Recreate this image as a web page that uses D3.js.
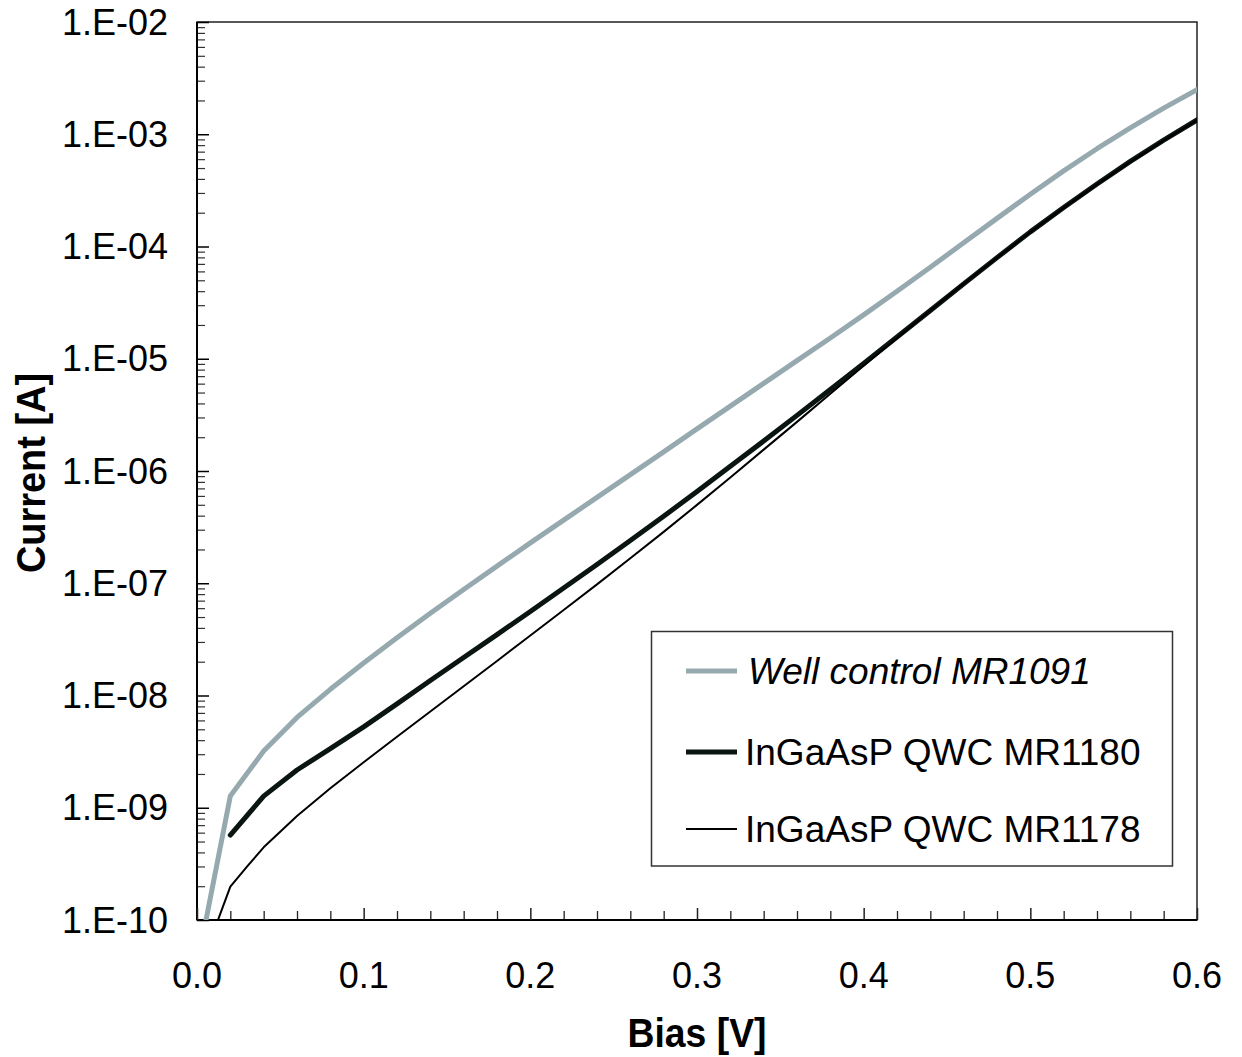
<!DOCTYPE html>
<html>
<head>
<meta charset="utf-8">
<script src="https://cdn.jsdelivr.net/npm/d3@7"></script>
<style>
  html, body { margin: 0; padding: 0; background: #fff; }
  svg { display: block; font-family: "Liberation Sans", Arial, Helvetica, sans-serif; }
</style>
</head>
<body>
<svg id="chart" width="1242" height="1057"></svg>
<script>
// ---- Data ----
const seriesNames = ["Well control MR1091", "InGaAsP QWC MR1180", "InGaAsP QWC MR1178"];

const wellBias = [0.00, 0.02, 0.04, 0.06, 0.08, 0.10, 0.12, 0.14, 0.16, 0.18, 0.20, 0.22, 0.24, 0.26, 0.28, 0.30, 0.32, 0.34, 0.36, 0.38, 0.40, 0.42, 0.44, 0.46, 0.48, 0.50, 0.52, 0.54, 0.56, 0.58, 0.60];
const wellCurrent = [3.9e-11, 1.27e-9, 3.20e-9, 6.38e-9, 1.135e-8, 1.95e-8, 3.27e-8, 5.41e-8, 8.81e-8, 1.42e-7, 2.29e-7, 3.65e-7, 5.82e-7, 9.29e-7, 1.48e-6, 2.37e-6, 3.78e-6, 6.03e-6, 9.62e-6, 1.53e-5, 2.46e-5, 3.99e-5, 6.53e-5, 1.08e-4, 1.78e-4, 2.92e-4, 4.72e-4, 7.43e-4, 1.14e-3, 1.71e-3, 2.50e-3];

const mr1180Bias = [0.02, 0.04, 0.06, 0.08, 0.10, 0.12, 0.14, 0.16, 0.18, 0.20, 0.22, 0.24, 0.26, 0.28, 0.30, 0.32, 0.34, 0.36, 0.38, 0.40, 0.42, 0.44, 0.46, 0.48, 0.50, 0.52, 0.54, 0.56, 0.58, 0.60];
const mr1180Current = [5.71e-10, 1.27e-9, 2.17e-9, 3.36e-9, 5.26e-9, 8.43e-9, 1.36e-8, 2.18e-8, 3.49e-8, 5.61e-8, 9.06e-8, 1.47e-7, 2.40e-7, 3.95e-7, 6.58e-7, 1.10e-6, 1.85e-6, 3.13e-6, 5.32e-6, 9.08e-6, 1.56e-5, 2.69e-5, 4.65e-5, 7.96e-5, 1.35e-4, 2.23e-4, 3.61e-4, 5.73e-4, 8.87e-4, 1.34e-3];

const mr1178Bias = [0.01, 0.02, 0.03, 0.04, 0.06, 0.08, 0.10, 0.12, 0.14, 0.16, 0.18, 0.20, 0.22, 0.24, 0.26, 0.28, 0.30, 0.32, 0.34, 0.36, 0.38, 0.40, 0.42, 0.44, 0.46, 0.48, 0.50, 0.52, 0.54, 0.56, 0.58, 0.60];
const mr1178Current = [7.87e-11, 1.98e-10, 2.99e-10, 4.44e-10, 8.45e-10, 1.49e-9, 2.54e-9, 4.29e-9, 7.21e-9, 1.21e-8, 2.03e-8, 3.42e-8, 5.77e-8, 9.77e-8, 1.67e-7, 2.87e-7, 4.99e-7, 8.75e-7, 1.55e-6, 2.74e-6, 4.88e-6, 8.67e-6, 1.53e-5, 2.69e-5, 4.66e-5, 7.94e-5, 1.34e-4, 2.21e-4, 3.57e-4, 5.66e-4, 8.77e-4, 1.33e-3];

const xTickValues = [0.0, 0.1, 0.2, 0.3, 0.4, 0.5, 0.6];
const xTickLabels = ["0.0", "0.1", "0.2", "0.3", "0.4", "0.5", "0.6"];
const yTickValues = [1e-10, 1e-9, 1e-8, 1e-7, 1e-6, 1e-5, 1e-4, 1e-3, 1e-2];
const yTickLabels = ["1.E-10", "1.E-09", "1.E-08", "1.E-07", "1.E-06", "1.E-05", "1.E-04", "1.E-03", "1.E-02"];

// ---- Layout ----
const L = 197, R = 1197, T = 22, B = 920;
const svg = d3.select("#chart");

const x = d3.scaleLinear().domain([0, 0.6]).range([L, R]);
const y = d3.scaleLog().domain([1e-10, 1e-2]).range([B, T]);

svg.append("defs").append("clipPath").attr("id", "plotClip")
  .append("rect").attr("x", L).attr("y", T).attr("width", R - L).attr("height", B - T);

// Frame
svg.append("rect").attr("x", L).attr("y", T).attr("width", R - L).attr("height", B - T)
  .attr("fill", "none").attr("stroke", "#222").attr("stroke-width", 1.5);

// Y minor/major ticks (inward)
const yMinor = [];
for (let e = -10; e < -2; e++) for (let m = 2; m <= 9; m++) yMinor.push(m * Math.pow(10, e));
const yAxisMinor = d3.axisRight(y).tickValues(yMinor).tickSize(8).tickFormat("");
const gYm = svg.append("g").attr("transform", `translate(${L},0)`).call(yAxisMinor);
gYm.select(".domain").remove();
gYm.selectAll("line").attr("stroke", "#333").attr("stroke-width", 1.2);

const yAxisMajor = d3.axisRight(y).tickValues(yTickValues).tickSize(12).tickFormat("");
const gYM = svg.append("g").attr("transform", `translate(${L},0)`).call(yAxisMajor);
gYM.select(".domain").attr("stroke", "#000").attr("stroke-width", 2).attr("d", `M0,${T}V${B}`);
gYM.selectAll("line").attr("stroke", "#000").attr("stroke-width", 1.5);

// Y tick labels
svg.append("g").selectAll("text").data(yTickValues).join("text")
  .attr("x", 168).attr("y", d => y(d))
  .attr("dy", "0.35em")
  .attr("text-anchor", "end")
  .attr("font-size", 36)
  .attr("fill", "#000")
  .text((d, i) => yTickLabels[i]);

// X ticks (inward)
const xMinor = d3.range(0, 0.6001, 0.02).filter(v => Math.abs(v * 10 - Math.round(v * 10)) > 1e-6);
const xAxisMinor = d3.axisTop(x).tickValues(xMinor).tickSize(9).tickFormat("");
const gXm = svg.append("g").attr("transform", `translate(0,${B})`).call(xAxisMinor);
gXm.select(".domain").remove();
gXm.selectAll("line").attr("stroke", "#222").attr("stroke-width", 1.3);

const xAxisMajor = d3.axisTop(x).tickValues(xTickValues).tickSize(12).tickFormat("");
const gXM = svg.append("g").attr("transform", `translate(0,${B})`).call(xAxisMajor);
gXM.select(".domain").attr("stroke", "#000").attr("stroke-width", 2).attr("d", `M${L},0H${R}`);
gXM.selectAll("line").attr("stroke", "#222").attr("stroke-width", 1.5);

svg.append("g").selectAll("text").data(xTickValues).join("text")
  .attr("x", d => x(d)).attr("y", 988)
  .attr("text-anchor", "middle")
  .attr("font-size", 36)
  .attr("fill", "#000")
  .text((d, i) => xTickLabels[i]);

// Axis titles
svg.append("text")
  .attr("x", 697).attr("y", 1047)
  .attr("text-anchor", "middle")
  .attr("font-size", 41).attr("font-weight", "bold")
  .attr("textLength", 139).attr("lengthAdjust", "spacingAndGlyphs")
  .text("Bias [V]");

svg.append("text")
  .attr("transform", "translate(45,473) rotate(-90)")
  .attr("text-anchor", "middle")
  .attr("font-size", 41).attr("font-weight", "bold")
  .attr("textLength", 200).attr("lengthAdjust", "spacingAndGlyphs")
  .text("Current [A]");

// Lines
const series = [
  { name: seriesNames[0], bias: wellBias, cur: wellCurrent, color: "#95a9af", width: 5 },
  { name: seriesNames[1], bias: mr1180Bias, cur: mr1180Current, color: "#0a1411", width: 5 },
  { name: seriesNames[2], bias: mr1178Bias, cur: mr1178Current, color: "#000000", width: 2 }
];

const line = d3.line().curve(d3.curveLinear).x(d => x(d[0])).y(d => y(d[1]));
const gLines = svg.append("g").attr("clip-path", "url(#plotClip)");
series.forEach(s => {
  gLines.append("path")
    .datum(s.bias.map((b, i) => [b, s.cur[i]]))
    .attr("d", line)
    .attr("fill", "none")
    .attr("stroke", s.color)
    .attr("stroke-width", s.width)
    .attr("stroke-linejoin", "round")
    .attr("stroke-linecap", "round");
});

// Legend
const lg = svg.append("g");
lg.append("rect").attr("x", 651.5).attr("y", 631.5).attr("width", 521).attr("height", 234.5)
  .attr("fill", "#fff").attr("stroke", "#333").attr("stroke-width", 1.5);
const legendY = [671, 752, 829];
series.forEach((s, i) => {
  lg.append("line").attr("x1", 686).attr("x2", 737).attr("y1", legendY[i]).attr("y2", legendY[i])
    .attr("stroke", s.color).attr("stroke-width", s.width);
  lg.append("text").attr("x", i === 0 ? 748 : 745).attr("y", legendY[i] + 13)
    .attr("font-size", 37)
    .attr("font-style", i === 0 ? "italic" : "normal")
    .attr("fill", "#000")
    .text(s.name);
});
</script>
</body>
</html>
